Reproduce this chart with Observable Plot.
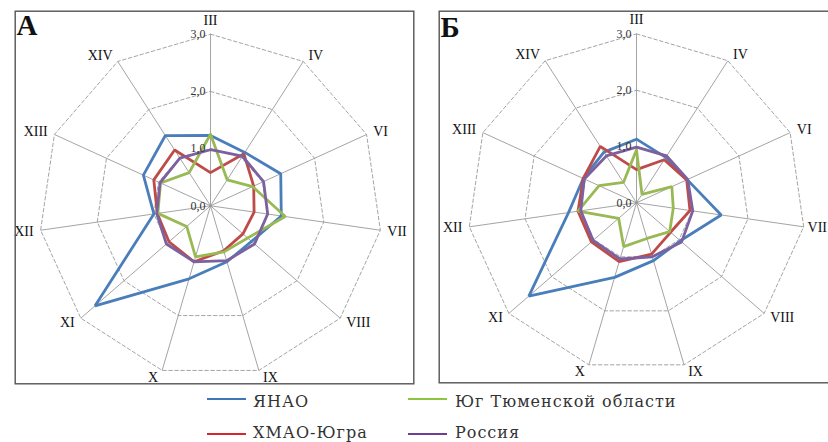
<!DOCTYPE html>
<html>
<head>
<meta charset="utf-8">
<script src="https://cdn.jsdelivr.net/npm/d3@7"></script>
<script src="https://cdn.jsdelivr.net/npm/@observablehq/plot@0.6"></script>
<style>
  html, body { margin: 0; padding: 0; background: #fff; overflow: hidden; }
  #root { position: relative; width: 828px; height: 442px; overflow: hidden; background: #fff; }
  #root svg { position: absolute; }
  .leg { position: absolute; font-family: "DejaVu Serif", serif; font-size: 16px; line-height: 17px; color: #333; white-space: nowrap; letter-spacing: 1px; }
  .legline { position: absolute; height: 2px; }
</style>
</head>
<body>
<div id="root"></div>
<script>
// ---- data ----
const axes = ["III", "IV", "VI", "VII", "VIII", "IX", "X", "XI", "XII", "XIII", "XIV"];
const seriesNames = ["ЯНАО", "ХМАО-Югра", "Юг Тюменской области", "Россия"];
const seriesColors = ["#4a7ebb", "#be4b48", "#98b954", "#7d60a0"];
const legendColors = ["#3f75bb", "#d4282e", "#8cc63f", "#6b3f98"];
const levels = [0, 1, 2, 3];
const levelLabels = ["0,0", "1,0", "2,0", "3,0"];

// Panel A
const yanaoA = [1.23, 1.11, 1.35, 1.25, 0.95, 1.02, 1.33, 2.67, 1.00, 1.29, 1.46];
const hmaoA  = [0.58, 1.08, 0.83, 0.77, 0.75, 0.82, 1.02, 0.96, 0.94, 1.09, 1.16];
const yugA   = [1.25, 0.54, 0.81, 1.32, 0.86, 0.84, 0.93, 0.55, 0.93, 0.96, 0.69];
const rusA   = [0.98, 1.03, 1.02, 1.01, 1.02, 1.00, 1.02, 1.02, 0.95, 0.97, 0.99];

// Panel Б
const yanaoB = [1.13, 0.96, 0.99, 1.52, 1.03, 1.07, 1.38, 2.53, 1.22, 1.04, 1.07];
const hmaoB  = [0.59, 0.91, 0.98, 0.96, 0.80, 0.95, 1.09, 1.06, 1.05, 1.04, 1.19];
const yugB   = [0.94, 0.18, 0.69, 0.66, 0.78, 0.66, 0.81, 0.42, 1.05, 0.73, 0.43];
const rusB   = [0.99, 0.99, 1.00, 1.01, 1.06, 1.00, 1.04, 1.02, 1.00, 1.02, 0.99];

const panelLetters = ["А", "Б"];

// ---- drawing ----
const root = document.getElementById("root");
const n = axes.length;
const ang = axes.map((d, i) => i * 2 * Math.PI / n);
const LABEL_FONT = "14px 'Liberation Serif'";
const measureCtx = document.createElement("canvas").getContext("2d");
measureCtx.font = LABEL_FONT;
const PAGE_W = 828;

function panel(opts) {
  const {left, top, W, H, cx, cy, k, letter, letterDy, values} = opts;
  const lines = [];
  values.forEach((vals, s) => {
    for (let i = 0; i <= n; i++) {
      const j = i % n;
      lines.push({series: seriesNames[s], x: vals[j] * Math.sin(ang[j]), y: vals[j] * Math.cos(ang[j])});
    }
  });
  const grid = [];
  levels.filter(l => l > 0).forEach(l => {
    for (let i = 0; i <= n; i++) {
      const j = i % n;
      grid.push({level: l, x: l * Math.sin(ang[j]), y: l * Math.cos(ang[j])});
    }
  });
  const rmax = d3.max(levels);
  const spokes = axes.map((a, i) => ({x: rmax * Math.sin(ang[i]), y: rmax * Math.cos(ang[i])}));
  const labs = axes.map((a, i) => {
    const s = Math.sin(ang[i]), c = Math.cos(ang[i]);
    const anchor = Math.abs(s) < 0.1 ? "middle" : (s > 0 ? "start" : "end");
    let dxp = anchor === "middle" ? 0 : Math.sign(s) * (3 + 4 * Math.abs(s));
    const dyp = -7 * c - (anchor === "middle" ? 7 : 0);
    if (anchor === "start") {
      // keep the label inside the page
      const startPx = cx + rmax * s * k + dxp;
      const w = measureCtx.measureText(a).width;
      const over = startPx + w - (PAGE_W - 1.5);
      if (over > 0) dxp -= over;
    }
    return {label: a, anchor, x: rmax * s + dxp / k, y: rmax * c - dyp / k};
  });
  const ticks = levels.map((l, i) => ({x: 0, y: l, t: levelLabels[i]}));
  const textMarks = ["start", "middle", "end"].map(an =>
    Plot.text(labs.filter(d => d.anchor === an), {
      x: "x", y: "y", text: "label", textAnchor: an, lineAnchor: "middle",
      fontSize: 14, fill: "#111", fontFamily: "Liberation Serif"
    })
  );
  const svg = Plot.plot({
    width: W, height: H,
    marginTop: 0, marginRight: 0, marginBottom: 0, marginLeft: 0,
    x: {domain: [(left - cx) / k, (left + W - cx) / k], axis: null},
    y: {domain: [(cy - (top + H)) / k, (cy - top) / k], axis: null},
    color: {domain: seriesNames, range: seriesColors},
    style: {fontFamily: "Liberation Serif", background: "#fff", overflow: "visible"},
    marks: [
      Plot.link(spokes, {x1: 0, y1: 0, x2: "x", y2: "y", stroke: "#9a9a9a", strokeWidth: 0.9}),
      Plot.line(grid, {x: "x", y: "y", z: "level", stroke: "#9a9a9a", strokeWidth: 0.9, strokeDasharray: "3.5,2.5", curve: "linear"}),
      Plot.dot([{x: 0, y: 0}], {x: "x", y: "y", r: 1.5, fill: "#999"}),
      Plot.line(lines, {x: "x", y: "y", z: "series", stroke: "series", strokeWidth: 2.8, strokeLinejoin: "miter", curve: "linear"}),
      Plot.text(ticks, {x: "x", y: "y", text: "t", textAnchor: "end", lineAnchor: "middle", dx: -5, fontSize: 12, fill: "#333", fontFamily: "Liberation Serif"}),
      ...textMarks,
      Plot.text([letter], {text: d => d, frameAnchor: "top-left", textAnchor: "start", lineAnchor: "top", dx: 2, dy: letterDy, fontSize: 29, fontWeight: "bold", fill: "#111", fontFamily: "Liberation Serif"}),
      Plot.frame({stroke: "#555", strokeWidth: 1.4, inset: 0.7})
    ]
  });
  svg.style.left = left + "px";
  svg.style.top = top + "px";
  root.appendChild(svg);
}

panel({left: 14, top: 10, W: 400, H: 374, cx: 210, cy: 205.3, k: 57.2, letter: panelLetters[0], letterDy: 4,
  values: [yanaoA, hmaoA, yugA, rusA]});
panel({left: 438, top: 10, W: 400, H: 373, cx: 636, cy: 202.3, k: 56.3, letter: panelLetters[1], letterDy: 6,
  values: [yanaoB, hmaoB, yugB, rusB]});

// ---- legend ----
const legendLayout = [
  {lx: 207, ly: 398, tx: 253, ty: 393},
  {lx: 207, ly: 433, tx: 253, ty: 424},
  {lx: 408, ly: 398, tx: 455, ty: 393},
  {lx: 408, ly: 433, tx: 455, ty: 424}
];
seriesNames.forEach((name, i) => {
  const p = legendLayout[i];
  const ln = document.createElement("div");
  ln.className = "legline";
  ln.style.left = p.lx + "px";
  ln.style.top = p.ly + "px";
  ln.style.width = "39px";
  ln.style.background = legendColors[i];
  root.appendChild(ln);
  const tx = document.createElement("div");
  tx.className = "leg";
  tx.style.left = p.tx + "px";
  tx.style.top = p.ty + "px";
  tx.textContent = name;
  root.appendChild(tx);
});
</script>
</body>
</html>
